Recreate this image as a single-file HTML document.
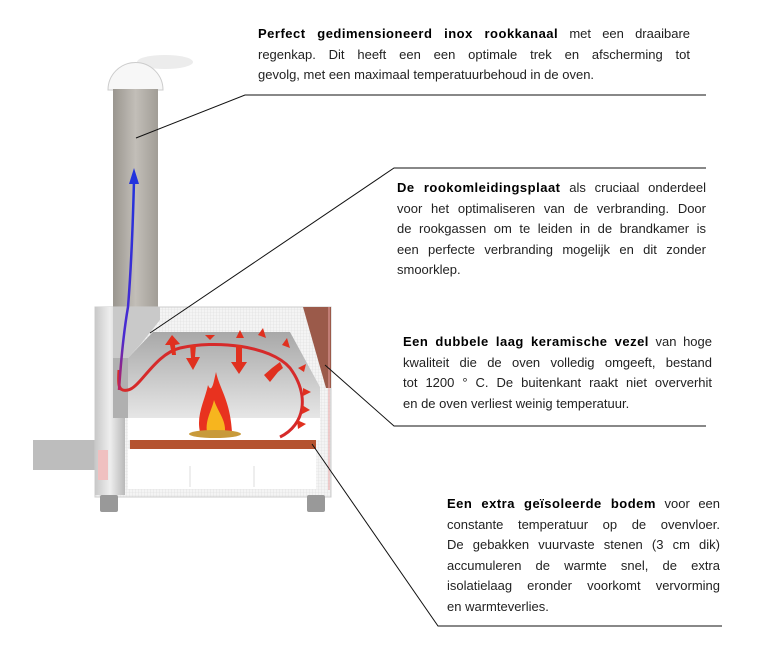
<!DOCTYPE html>
<html><head><meta charset="utf-8"><style>
html,body{margin:0;padding:0;background:#fff;}
body{width:775px;height:666px;position:relative;overflow:hidden;font-family:"Liberation Sans",sans-serif;}
.t{position:absolute;font-size:13px;line-height:20.6px;color:#222;}
.t div{text-align:justify;text-align-last:justify;white-space:normal;}
.t div.l{text-align-last:left;}
.t b{font-weight:900;letter-spacing:0.5px;color:#000;}
svg{position:absolute;left:0;top:0;}
</style></head><body>
<svg width="775" height="666" viewBox="0 0 775 666">
<defs>
<linearGradient id="ch" x1="0" x2="1"><stop offset="0" stop-color="#9a968f"/><stop offset=".5" stop-color="#c2beb8"/><stop offset="1" stop-color="#a19d96"/></linearGradient>
<linearGradient id="gr" x1="0" y1="0" x2="0" y2="1"><stop offset="0" stop-color="#a8a8a8"/><stop offset="1" stop-color="#e6e6e6"/></linearGradient>
<linearGradient id="po" x1="0" x2="1"><stop offset="0" stop-color="#c8c8c8"/><stop offset=".5" stop-color="#eeeeee"/><stop offset="1" stop-color="#b8b8b8"/></linearGradient>
<linearGradient id="ar" x1="0" y1="0" x2="0" y2="1"><stop offset="0" stop-color="#2233dd"/><stop offset=".75" stop-color="#4a2ad0"/><stop offset="1" stop-color="#c0205a"/></linearGradient>
<pattern id="grid" width="3" height="3" patternUnits="userSpaceOnUse"><rect width="3" height="3" fill="#f4f4f4"/><path d="M0 0H3M0 0V3" stroke="#dcdcdc" stroke-width=".6"/></pattern>
</defs>
<ellipse cx="165" cy="62" rx="28" ry="7" fill="#ececec"/>
<path d="M108 90 A27 27 0 0 1 163 90 Z" fill="#f7f7f7" stroke="#ccc"/>
<rect x="113" y="89" width="45" height="220" fill="url(#ch)"/>
<rect x="33" y="440" width="65" height="30" fill="#bdbdbd"/>
<rect x="95" y="307" width="236" height="190" fill="url(#grid)" stroke="#ccc"/>
<polygon points="303,307 331,307 331,388 326,388" fill="#9b5a4a"/>
<line x1="329" y1="307" x2="329" y2="490" stroke="#e8a0a0"/>
<polygon points="128,358 153,332 290,332 320,387 320,418 128,418" fill="url(#gr)"/>
<rect x="128" y="418" width="192" height="22" fill="#fff"/>
<rect x="128" y="449" width="188" height="40" fill="#fff"/>
<line x1="190" y1="466" x2="190" y2="487" stroke="#ddd"/><line x1="254" y1="466" x2="254" y2="487" stroke="#ddd"/>
<rect x="130" y="440" width="186" height="9" fill="#b5532f"/>
<rect x="95" y="307" width="30" height="188" fill="url(#po)"/>
<rect x="98" y="450" width="10" height="30" fill="#f0c0c0"/>
<polygon points="113,307 160,307 160,320 140,345 128,358 113,358" fill="#c9c9c9"/>
<polygon points="113,358 128,358 128,418 113,418" fill="#b0b0b0"/>
<rect x="100" y="495" width="18" height="17" rx="2" fill="#999"/>
<rect x="307" y="495" width="18" height="17" rx="2" fill="#999"/>
<path d="M200 432 C196 415 205 400 208 385 C212 395 214 380 216 372 C220 390 230 400 232 432 Z" fill="#e8321f"/>
<path d="M207 432 C205 420 212 410 214 400 C218 412 226 420 225 432 Z" fill="#f7b51e"/>
<ellipse cx="215" cy="434" rx="26" ry="4" fill="#c89a3a"/>
<path d="M280 437 C305 425 310 395 290 368 C270 345 215 340 180 348 C155 354 140 388 128 390 C118 392 118 385 119 370" fill="none" stroke="#d62a2a" stroke-width="3"/>
<g fill="#e0301f">
<polygon points="172,335 165,345 170,345 172,355 176,355 175,345 180,344"/>
<polygon points="190,345 196,345 195,357 200,357 193,370 186,358 191,358"/>
<polygon points="210,340 205,335 215,335"/>
<polygon points="236,345 242,345 242,362 247,362 239,374 231,362 236,362"/>
<polygon points="236,338 240,330 244,338"/>
<polygon points="258,335 263,328 266,338"/>
<polygon points="272,368 280,362 283,368 278,372 270,382 264,375"/>
<polygon points="282,345 287,338 290,348"/>
<polygon points="298,368 306,364 304,372"/>
<polygon points="303,388 311,392 303,396"/>
<polygon points="302,405 310,410 302,414"/>
<polygon points="297,420 306,424 298,429"/>
</g>
<path d="M119 390 C121 360 124 330 128 307 C131 270 133 220 134 180" fill="none" stroke="url(#ar)" stroke-width="2.5"/>
<polygon points="134,168 129,184 139,184" fill="#2233dd"/>
<g fill="none" stroke="#111" stroke-width="1">
<polyline points="136,138 245,95 706,95"/>
<polyline points="150,333 394,168 706,168"/>
<polyline points="325,365 394,426 706,426"/>
<polyline points="312,444 438,626 722,626"/>
</g>
</svg>
<div class="t" style="left:258px;top:24px;width:432px;">
<div><b>Perfect gedimensioneerd inox rookkanaal</b> met een draaibare</div>
<div>regenkap. Dit heeft een een optimale trek en afscherming tot</div>
<div class="l">gevolg, met een maximaal temperatuurbehoud in de oven.</div>
</div>
<div class="t" style="left:397px;top:178px;width:309px;">
<div><b>De rookomleidingsplaat</b> als cruciaal onderdeel</div>
<div>voor het optimaliseren van de verbranding. Door</div>
<div>de rookgassen om te leiden in de brandkamer is</div>
<div>een perfecte verbranding mogelijk en dit zonder</div>
<div class="l">smoorklep.</div>
</div>
<div class="t" style="left:403px;top:332px;width:309px;">
<div><b>Een dubbele laag keramische vezel</b> van hoge</div>
<div>kwaliteit die de oven volledig omgeeft, bestand</div>
<div>tot 1200 ° C. De buitenkant raakt niet oververhit</div>
<div class="l">en de oven verliest weinig temperatuur.</div>
</div>
<div class="t" style="left:447px;top:494px;width:273px;">
<div><b>Een extra geïsoleerde bodem</b> voor een</div>
<div>constante temperatuur op de ovenvloer.</div>
<div>De gebakken vuurvaste stenen (3 cm dik)</div>
<div>accumuleren de warmte snel, de extra</div>
<div>isolatielaag eronder voorkomt vervorming</div>
<div class="l">en warmteverlies.</div>
</div>
</body></html>
